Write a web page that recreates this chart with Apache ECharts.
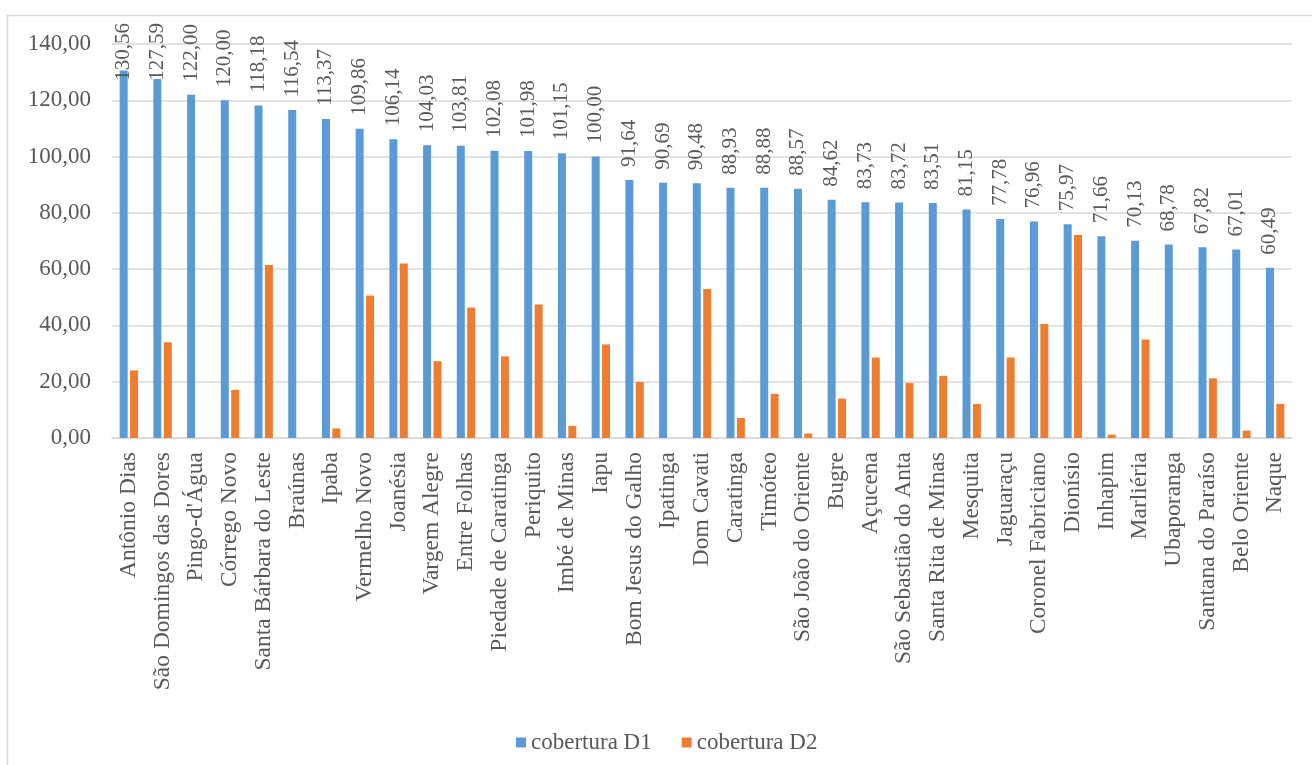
<!DOCTYPE html>
<html>
<head>
<meta charset="utf-8">
<script src="https://cdn.jsdelivr.net/npm/echarts@6/dist/echarts.min.js"></script>
<style>
  html, body { margin: 0; padding: 0; background: #ffffff; }
  #chart { width: 1312px; height: 765px; }
</style>
</head>
<body>
<div id="chart"></div>
<script>
// Municipalities, ordered by D1 coverage
const municipios = [
  'Antônio Dias', 'São Domingos das Dores', "Pingo-d'Água", 'Córrego Novo',
  'Santa Bárbara do Leste', 'Braúnas', 'Ipaba', 'Vermelho Novo', 'Joanésia',
  'Vargem Alegre', 'Entre Folhas', 'Piedade de Caratinga', 'Periquito',
  'Imbé de Minas', 'Iapu', 'Bom Jesus do Galho', 'Ipatinga', 'Dom Cavati',
  'Caratinga', 'Timóteo', 'São João do Oriente', 'Bugre', 'Açucena',
  'São Sebastião do Anta', 'Santa Rita de Minas', 'Mesquita', 'Jaguaraçu',
  'Coronel Fabriciano', 'Dionísio', 'Inhapim', 'Marliéria', 'Ubaporanga',
  'Santana do Paraíso', 'Belo Oriente', 'Naque'
];

// Coverage, first dose (%)
const coberturaD1 = [
  130.56, 127.59, 122.00, 120.00, 118.18, 116.54, 113.37, 109.86, 106.14,
  104.03, 103.81, 102.08, 101.98, 101.15, 100.00, 91.64, 90.69, 90.48,
  88.93, 88.88, 88.57, 84.62, 83.73, 83.72, 83.51, 81.15, 77.78, 76.96,
  75.97, 71.66, 70.13, 68.78, 67.82, 67.01, 60.49
];

// Coverage, second dose (%)
const coberturaD2 = [
  24.0, 34.0, 0, 17.1, 61.5, 0, 3.4, 50.6, 62.0,
  27.3, 46.4, 29.0, 47.4, 4.3, 33.2, 19.9, 0, 52.9,
  7.1, 15.7, 1.6, 14.0, 28.6, 19.5, 22.1, 12.1, 28.6, 40.5,
  72.1, 1.2, 35.0, 0, 21.2, 2.6, 12.1
];

// Y axis ticks
const yMin = 0;
const yMax = 140;
const yStep = 20;

const fmt = v => Number(v).toFixed(2).replace('.', ',');
const FONT = '"Liberation Serif", "Times New Roman", serif';

const LABEL_GAP = 13;     // space between bar top and its value label
const LABEL_TOP = 23;     // value labels never rise above this line

const chart = echarts.init(document.getElementById('chart'), null, { renderer: 'canvas' });

chart.setOption({
  animation: false,
  backgroundColor: '#ffffff',
  graphic: [{
    type: 'rect',
    shape: { x: 7.5, y: 15.5, width: 1400, height: 800 },
    style: { fill: 'none', stroke: '#d9d9d9', lineWidth: 1.5 },
    silent: true
  }],
  grid: { left: 112, right: 20, top: 44, bottom: 327 },
  legend: {
    left: 511,
    top: 726,
    itemWidth: 10,
    itemHeight: 10,
    itemGap: 30,
    icon: 'rect',
    textStyle: { fontFamily: FONT, fontSize: 23, color: '#595959' },
    data: ['cobertura D1', 'cobertura D2']
  },
  xAxis: {
    type: 'category',
    data: municipios,
    axisTick: { show: false },
    axisLine: { lineStyle: { color: '#d9d9d9', width: 1.5 } },
    axisLabel: {
      interval: 0,
      rotate: 90,
      margin: 14,
      fontFamily: FONT,
      fontSize: 23.5,
      color: '#595959'
    }
  },
  yAxis: {
    type: 'value',
    min: yMin,
    max: yMax,
    interval: yStep,
    axisLine: { show: false },
    axisTick: { show: false },
    splitLine: { lineStyle: { color: '#d9d9d9', width: 1.5 } },
    axisLabel: {
      margin: 21,
      fontFamily: FONT,
      fontSize: 23,
      color: '#595959',
      formatter: fmt
    }
  },
  series: [
    {
      name: 'cobertura D1',
      type: 'bar',
      data: coberturaD1,
      barWidth: 8,
      barGap: '30%',
      itemStyle: { color: '#5b9bd5' },
      label: {
        show: true,
        position: 'top',
        fontFamily: FONT,
        fontSize: 21,
        color: '#595959',
        formatter: p => fmt(p.value)
      },
      // vertical value label sitting above each bar, kept inside the frame
      labelLayout: function (params) {
        const r = params.rect;
        const len = Math.max(params.labelRect.width, params.labelRect.height);
        const y = Math.max(r.y - LABEL_GAP, LABEL_TOP + len);
        return {
          x: r.x + r.width / 2,
          y: y,
          rotate: 90,
          align: 'left',
          verticalAlign: 'middle'
        };
      }
    },
    {
      name: 'cobertura D2',
      type: 'bar',
      data: coberturaD2,
      barWidth: 8,
      barGap: '30%',
      itemStyle: { color: '#ed7d31' }
    }
  ]
});
</script>
</body>
</html>
